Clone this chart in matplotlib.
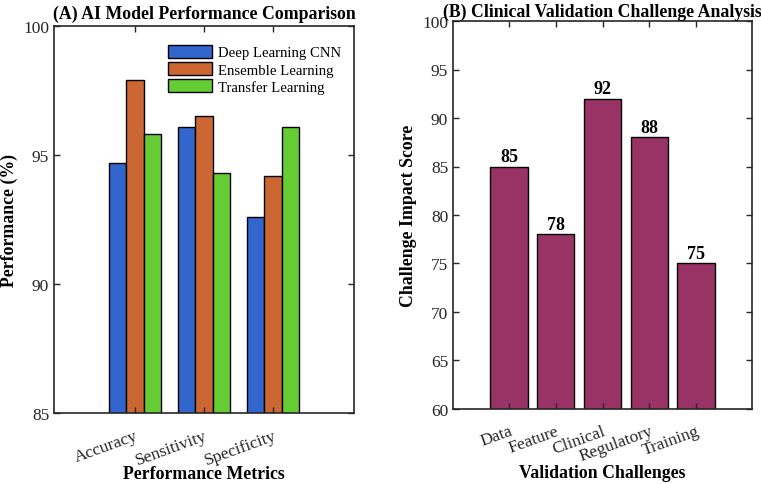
import numpy as np
import matplotlib
matplotlib.use('Agg')
import matplotlib.pyplot as plt

plt.rcParams['font.family'] = ['Liberation Serif', 'DejaVu Serif']

metrics = ['Accuracy', 'Sensitivity', 'Specificity']
models = ['Deep Learning CNN', 'Ensemble Learning', 'Transfer Learning']
cnn = [94.7, 96.1, 92.6]
ensemble = [97.9, 96.5, 94.2]
transfer = [95.8, 94.3, 96.1]

challenges = ['Data', 'Feature', 'Clinical', 'Regulatory', 'Training']
scores = [85, 78, 92, 88, 75]

model_colors = ['#3366CC', '#CC6633', '#66CC33']
bar_color = '#993366'

fig = plt.figure(figsize=(7.61, 4.85), dpi=100)
ax1 = fig.add_axes([54 / 761, 1 - 414 / 485, 300 / 761, 387 / 485])
ax2 = fig.add_axes([453 / 761, 1 - 410 / 485, 299 / 761, 388 / 485])

# (A) grouped bars
x = np.arange(1, len(metrics) + 1)
w = 0.25
for k, (vals, lab) in enumerate(zip([cnn, ensemble, transfer], models)):
    ax1.bar(x + (k - 1) * w, vals, w, color=model_colors[k], edgecolor='black',
            linewidth=1, label=lab)
ax1.set_ylim(85, 100)
ax1.set_xlim(-0.17, 4.17)
ax1.set_yticks([85, 90, 95, 100])
ax1.set_xticks(x)
ax1.set_xticklabels(metrics, rotation=20, ha='right', rotation_mode='anchor')
ax1.set_xlabel('Performance Metrics', fontweight='bold', fontsize=12.8)
ax1.xaxis.set_label_coords(0.5, -0.135)
ax1.set_ylabel('Performance (%)', fontweight='bold', fontsize=12.8)
ax1.set_title('(A) AI Model Performance Comparison', fontweight='bold', fontsize=12.8, pad=5.5)
ax1.legend(loc='upper right', frameon=False, fontsize=10.6, handlelength=3.0,
           handleheight=0.95, labelspacing=0.18, handletextpad=0.35,
           bbox_to_anchor=(1.0, 0.985))

# (B) single bars
x2 = np.arange(1, len(challenges) + 1)
bars = ax2.bar(x2, scores, 0.8, color=bar_color, edgecolor='black', linewidth=1)
for b, v in zip(bars, scores):
    ax2.text(b.get_x() + b.get_width() / 2, v + 0.15, str(v), ha='center', va='bottom',
             fontweight='bold', fontsize=13)
ax2.set_ylim(60, 100)
ax2.set_xlim(-0.2, 6.2)
ax2.set_yticks(range(60, 101, 5))
ax2.set_xticks(x2)
ax2.set_xticklabels(challenges, rotation=20, ha='right', rotation_mode='anchor')
ax2.set_xlabel('Validation Challenges', fontweight='bold', fontsize=12.8)
ax2.xaxis.set_label_coords(0.5, -0.142)
ax2.set_ylabel('Challenge Impact Score', fontweight='bold', fontsize=12.8)
ax2.set_title('(B) Clinical Validation Challenge Analysis', fontweight='bold', fontsize=12.8, pad=3.5)

for ax in (ax1, ax2):
    ax.tick_params(direction='in', top=True, right=True, labelsize=12.5, length=4,
                   width=1, colors='#262626', labelcolor='#262626')
    ax.tick_params(axis='x', pad=10)
    for s in ax.spines.values():
        s.set_linewidth(1.2)
        s.set_color('#262626')

fig.savefig('out.png', dpi=100)
